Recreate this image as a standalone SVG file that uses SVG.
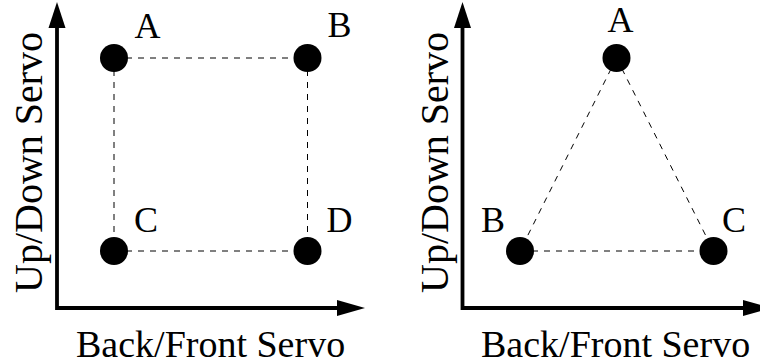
<svg xmlns="http://www.w3.org/2000/svg" width="760" height="364" viewBox="0 0 760 364">
  <style>
    .axis { fill: none; stroke: #000; stroke-width: 3.8; stroke-linejoin: miter; }
    .head { fill: #000; stroke: none; }
    .link { fill: none; stroke: #000; stroke-width: 1; stroke-dasharray: 6 6; }
    .dot { fill: #000; }
    .lbl { font-family: "Liberation Serif", "Times New Roman", serif; font-size: 36px; fill: #000; }
    .axlbl { font-family: "Liberation Serif", "Times New Roman", serif; font-size: 38px; fill: #000; }
    .vlbl { font-family: "Liberation Serif", "Times New Roman", serif; font-size: 40px; fill: #000; }
  </style>
  <rect width="760" height="364" fill="#fff"/>

  <!-- left panel: axes -->
  <g id="axes-left">
    <polyline class="axis" points="57,27 57,308 339,308"/>
    <polygon class="head" points="57,2 48.5,28 65.5,28"/>
    <polygon class="head" points="365,308 337,300 337,316"/>
    <text class="axlbl" x="76" y="357">Back/Front Servo</text>
    <text class="vlbl" transform="translate(42,293) rotate(-90)">Up/Down Servo</text>
  </g>

  <!-- right panel: axes -->
  <g id="axes-right">
    <polyline class="axis" points="462.5,27 462.5,308 745,308"/>
    <polygon class="head" points="462.5,2 454,28 471,28"/>
    <polygon class="head" points="771,308 743,300 743,316"/>
    <text class="axlbl" x="481" y="357">Back/Front Servo</text>
    <text class="vlbl" transform="translate(448,293) rotate(-90)">Up/Down Servo</text>
  </g>

  <!-- dashed connectors -->
  <g id="connectors">
    <line class="link" x1="114" y1="58" x2="307.5" y2="58"/>
    <line class="link" x1="114" y1="251" x2="307.5" y2="251"/>
    <line class="link" x1="114" y1="58" x2="114" y2="251"/>
    <line class="link" x1="307.5" y1="58" x2="307.5" y2="251"/>
    <line class="link" x1="616.5" y1="58" x2="520" y2="251"/>
    <line class="link" x1="616.5" y1="58" x2="713.5" y2="251"/>
    <line class="link" x1="520" y1="251" x2="713.5" y2="251"/>
  </g>

  <!-- left panel: points -->
  <g id="left-A"><circle class="dot" cx="114" cy="58" r="14"/><text class="lbl" x="134.5" y="38">A</text></g>
  <g id="left-B"><circle class="dot" cx="307.5" cy="58" r="14"/><text class="lbl" x="327.5" y="37">B</text></g>
  <g id="left-C"><circle class="dot" cx="114" cy="251" r="14"/><text class="lbl" x="134" y="232">C</text></g>
  <g id="left-D"><circle class="dot" cx="307.5" cy="251" r="14"/><text class="lbl" x="326.5" y="232">D</text></g>

  <!-- right panel: points -->
  <g id="right-A"><circle class="dot" cx="616.5" cy="58" r="14"/><text class="lbl" x="607.5" y="32">A</text></g>
  <g id="right-B"><circle class="dot" cx="520" cy="251" r="14"/><text class="lbl" x="481" y="232">B</text></g>
  <g id="right-C"><circle class="dot" cx="713.5" cy="251" r="14"/><text class="lbl" x="722" y="232">C</text></g>
</svg>
